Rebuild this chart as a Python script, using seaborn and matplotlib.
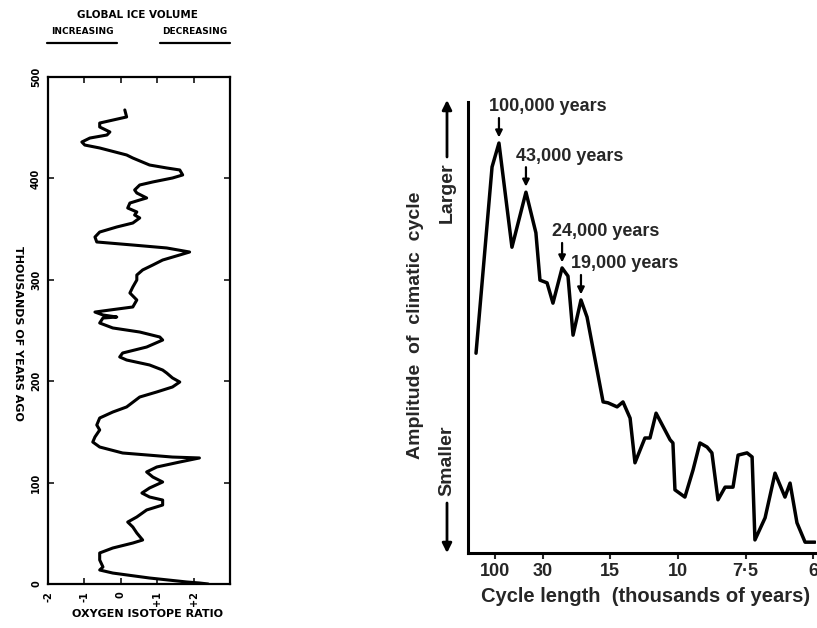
import matplotlib
matplotlib.use("Agg")
import matplotlib.pyplot as plt
import numpy as np
import pandas as pd
import seaborn as sns

# ---------------- data ----------------
# Left panel: oxygen-isotope record (thousands of years ago vs isotope units)
age_kyr = [0, 1.0, 2.0, 5.9, 10.8, 13.8, 16.8, 23.7, 30.6, 35.5,
           40.4, 43.4, 50.3, 56.2, 61.1, 66.1, 73.0, 77.9, 82.8, 85.8,
           89.7, 94.7, 100.6, 105.5, 110.5, 115.4, 120.3, 124.3, 125.2, 129.2,
           135.1, 140.0, 145.0, 151.9, 156.8, 163.7, 169.6, 174.6, 184.4, 189.4,
           194.3, 199.2, 203.2, 208.1, 211.0, 216.0, 220.9, 223.9, 227.8, 233.7,
           240.6, 243.6, 248.5, 252.5, 257.4, 262.3, 263.3, 265.3, 268.2, 270.2,
           273.2, 280.1, 287.0, 292.9, 299.8, 304.7, 309.7, 314.6, 319.5, 324.5,
           327.4, 331.4, 334.3, 337.3, 342.2, 347.1, 352.1, 356.0, 361.0, 363.9,
           366.9, 370.8, 375.7, 378.7, 380.7, 385.6, 388.6, 393.5, 396.5, 400.4,
           403.4, 408.3, 410.3, 413.2, 420.1, 423.1, 430.0, 432.9, 435.9, 439.8,
           442.8, 445.8, 450.7, 454.6, 460.6, 467.5]
isotope = [4.40, 4.16, 3.81, 2.79, 1.78, 1.42, 1.51, 1.42, 1.42, 1.78,
           2.33, 2.60, 2.44, 2.33, 2.19, 2.44, 2.71, 3.15, 3.15, 2.79,
           2.58, 2.79, 3.15, 2.88, 2.71, 2.99, 3.62, 4.16, 3.42, 2.05,
           1.42, 1.23, 1.29, 1.42, 1.34, 1.42, 1.78, 2.16, 2.52, 2.99,
           3.42, 3.62, 3.42, 3.26, 3.15, 2.79, 2.16, 1.97, 2.05, 2.71,
           3.15, 3.07, 2.52, 1.78, 1.42, 1.51, 1.89, 1.51, 1.29, 1.70,
           2.33, 2.44, 2.25, 2.33, 2.44, 2.44, 2.60, 2.88, 3.15, 3.62,
           3.89, 3.26, 2.33, 1.34, 1.29, 1.42, 1.89, 2.33, 2.52, 2.38,
           2.44, 2.19, 2.25, 2.52, 2.71, 2.44, 2.38, 2.52, 2.88, 3.42,
           3.70, 3.62, 3.26, 2.79, 2.33, 2.16, 1.42, 1.01, 0.93, 1.15,
           1.62, 1.70, 1.42, 1.42, 2.16, 2.11]
age_ticks = [0, 100, 200, 300, 400, 500]
age_tick_labels = ["0", "100", "200", "300", "400", "500"]
iso_ticks = [0, 1, 2, 3, 4]
iso_tick_labels = ["-2", "-1", "0", "+1", "+2"]

# Right panel: spectrum (frequency in cycles per thousand years vs amplitude)
frequency = [0.0005, 0.0084, 0.0118, 0.0182, 0.0251, 0.0300, 0.0320, 0.0355, 0.0384, 0.0429,
             0.0458, 0.0483, 0.0522, 0.0552, 0.0631, 0.0655, 0.0700, 0.0729, 0.0764, 0.0788,
             0.0837, 0.0862, 0.0892, 0.0961, 0.0975, 0.0985, 0.1034, 0.1074, 0.1108, 0.1143,
             0.1167, 0.1197, 0.1232, 0.1271, 0.1296, 0.1340, 0.1365, 0.1379, 0.1429, 0.1478,
             0.1527, 0.1552, 0.1586, 0.1626, 0.1675]
amplitude = [44.3, 85.6, 90.9, 67.8, 80.0, 71.0, 60.5, 59.9, 55.4, 63.2,
             61.4, 48.3, 56.1, 52.3, 33.5, 33.3, 32.4, 33.5, 29.9, 20.0,
             25.5, 25.5, 31.0, 25.1, 24.4, 14.0, 12.4, 18.4, 24.4, 23.5,
             22.2, 11.8, 14.6, 14.6, 21.7, 22.2, 21.3, 2.9, 7.8, 17.7,
             12.4, 15.5, 6.7, 2.4, 2.4]
period_ticks = [100, 30, 15, 10, 7.5, 6]
period_tick_labels = ["100", "30", "15", "10", "7\u00b75", "6"]
peak_labels = ["100,000 years", "43,000 years", "24,000 years", "19,000 years"]
peak_index = [2, 4, 9, 12]

# ---------------- style ----------------
sns.set_theme(style="white")
plt.rcParams["font.family"] = ["Liberation Sans", "DejaVu Sans"]

W, H = 817, 628
fig = plt.figure(figsize=(W / 100, H / 100), dpi=100)
fig.patch.set_facecolor("white")


def fx(px):
    return px / W


def fy(py):
    return 1 - py / H


BLOCK = dict(family="DejaVu Sans", fontweight="bold", color="black")

# ---------------- left panel ----------------
ax1 = fig.add_axes([fx(48), fy(584), fx(230) - fx(48), fy(77) - fy(584)])
df1 = pd.DataFrame({"age": age_kyr, "iso": isotope})
sns.lineplot(data=df1, x="iso", y="age", orient="y", estimator=None,
             color="black", linewidth=2.2, ax=ax1)
ax1.set_xlim(0, 5)
ax1.set_ylim(0, 500)
ax1.set_xlabel("")
ax1.set_ylabel("")
ax1.set_yticks(age_ticks)
ax1.set_yticklabels(age_tick_labels, rotation=90, va="center", **BLOCK, fontsize=7)
ax1.set_xticks(iso_ticks)
ax1.set_xticklabels(iso_tick_labels, rotation=90, ha="center", **BLOCK, fontsize=7)
ax1.tick_params(axis="both", direction="in", length=4, width=1.3,
                top=True, right=True, bottom=True, left=True)
ax1.tick_params(axis="y", pad=5)
ax1.tick_params(axis="x", pad=5)
for sp in ax1.spines.values():
    sp.set_visible(True)
    sp.set_linewidth(1.6)
    sp.set_color("black")

fig.text(fx(18), fy(333), "THOUSANDS OF YEARS AGO", rotation=-90,
         ha="center", va="center", fontsize=8, **BLOCK)
fig.text(fx(137), fy(15), "GLOBAL ICE VOLUME", ha="center", va="center",
         fontsize=7.5, **BLOCK)
fig.text(fx(82), fy(32), "INCREASING", ha="center", va="center", fontsize=6.5, **BLOCK)
fig.text(fx(195), fy(32), "DECREASING", ha="center", va="center", fontsize=6.5, **BLOCK)
fig.add_artist(plt.Line2D([fx(47), fx(117)], [fy(43), fy(43)], color="black", lw=1.6))
fig.add_artist(plt.Line2D([fx(160), fx(230)], [fy(43), fy(43)], color="black", lw=1.6))
fig.text(fx(147), fy(614), "OXYGEN ISOTOPE RATIO", ha="center", va="center",
         fontsize=8, **BLOCK)

# ---------------- right panel ----------------
ax2 = fig.add_axes([fx(468), fy(553), fx(816) - fx(468), fy(102) - fy(553)])
df2 = pd.DataFrame({"freq": frequency, "amp": amplitude})
sns.lineplot(data=df2, x="freq", y="amp", estimator=None, color="black",
             linewidth=2.5, ax=ax2)
ax2.set_xlim((468 - 475) / 2030, (816 - 475) / 2030)
ax2.set_ylim(0, 100)
ax2.set_xlabel("")
ax2.set_ylabel("")
ax2.set_yticks([])
ax2.set_xticks([1 / p for p in period_ticks])
ax2.set_xticklabels(period_tick_labels, fontsize=13, fontweight="bold")
ax2.tick_params(axis="x", direction="out", length=4, width=1.5, pad=3, bottom=True)
sns.despine(ax=ax2)
for side in ["left", "bottom"]:
    ax2.spines[side].set_linewidth(2.2)
    ax2.spines[side].set_color("black")

for lab, i in zip(peak_labels, peak_index):
    xy = (frequency[i], amplitude[i])
    ax2.annotate(lab, xy=xy, xytext=(-7, 26), textcoords="offset points",
                 ha="left", va="center", fontsize=13, fontweight="bold",
                 annotation_clip=False)
    ax2.annotate("", xy=xy, xytext=(0, 18), textcoords="offset points",
                 arrowprops=dict(arrowstyle="-|>", color="black", lw=1.6,
                                 mutation_scale=10, shrinkA=0, shrinkB=4),
                 annotation_clip=False)

fig.text(fx(646), fy(597), "Cycle length  (thousands of years)", ha="center",
         va="center", fontsize=14.5, fontweight="bold")
fig.text(fx(416), fy(325), "Amplitude  of  climatic  cycle", rotation=90,
         ha="center", va="center", fontsize=14, fontweight="bold")
fig.text(fx(447), fy(193), "Larger", rotation=90, ha="center", va="center",
         fontsize=14, fontweight="bold")
fig.text(fx(447), fy(461), "Smaller", rotation=90, ha="center", va="center",
         fontsize=14, fontweight="bold")
ax2.annotate("", xy=(fx(447), fy(100)), xytext=(fx(447), fy(157)),
             xycoords="figure fraction", textcoords="figure fraction",
             arrowprops=dict(arrowstyle="-|>", color="black", lw=2,
                             mutation_scale=14, shrinkA=0, shrinkB=0),
             annotation_clip=False)
ax2.annotate("", xy=(fx(447), fy(553)), xytext=(fx(447), fy(503)),
             xycoords="figure fraction", textcoords="figure fraction",
             arrowprops=dict(arrowstyle="-|>", color="black", lw=2,
                             mutation_scale=14, shrinkA=0, shrinkB=0),
             annotation_clip=False)

fig.savefig("out.png", dpi=100, facecolor="white")
